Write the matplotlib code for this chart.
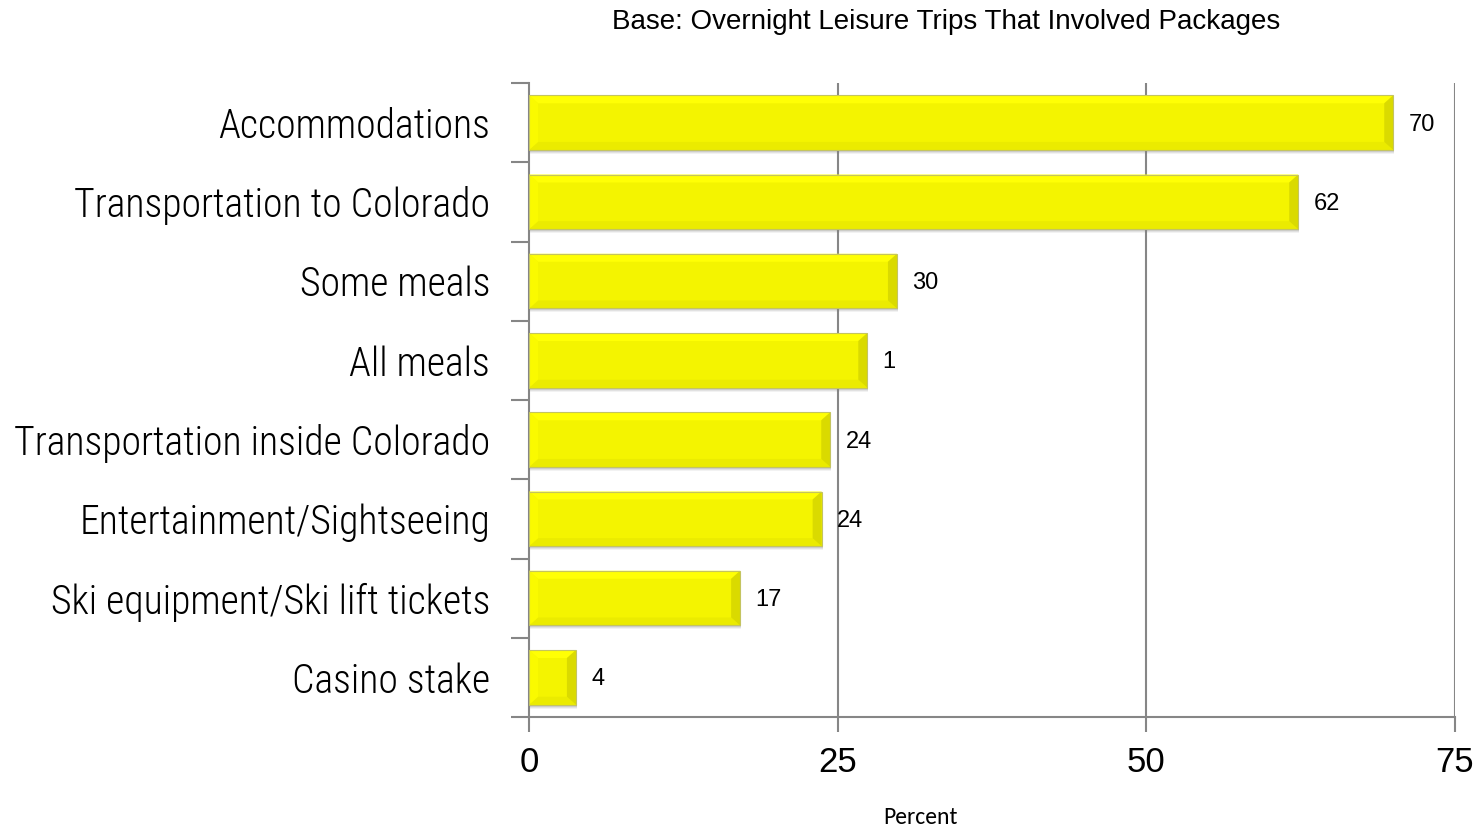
import matplotlib
matplotlib.use("Agg")
import matplotlib.pyplot as plt
import matplotlib.font_manager as fm
from matplotlib.patches import Rectangle, Polygon
import numpy as np

categories = ["Accommodations", "Transportation to Colorado", "Some meals", "All meals",
              "Transportation inside Colorado", "Entertainment/Sightseeing",
              "Ski equipment/Ski lift tickets", "Casino stake"]
values = [70, 62.3, 29.8, 27.4, 24.4, 23.7, 17.1, 3.8]
value_labels = ["70", "62", "30", "1", "24", "24", "17", "4"]
x_ticks = [0, 25, 50, 75]
title = "Base: Overnight Leisure Trips That Involved Packages"
xlabel = "Percent"

names = {f.name for f in fm.fontManager.ttflist}


def pick(prefs, default):
    for p in prefs:
        if p in names:
            return p
    return default


narrow = pick(["Liberation Sans Narrow", "Arial Narrow", "Roboto Condensed",
               "Archivo Narrow", "PT Sans Narrow", "Barlow Condensed"], "DejaVu Sans")
arial = pick(["Liberation Sans", "Arimo", "Arial"], "DejaVu Sans")
calibri = pick(["Carlito", "Calibri", "Open Sans"], "DejaVu Sans")
narrow_size = 30 if narrow in ("Liberation Sans Narrow", "Arial Narrow") else 28.6
if narrow == "DejaVu Sans":
    narrow_size = 21

fig = plt.figure(figsize=(14.84, 8.31), dpi=100)
ax = fig.add_axes([529/1484, 1-717/831, (1455-529)/1484, (717-83)/831])

n = len(categories)
ypos = np.arange(n)[::-1]
bar_h = 0.69
ax.set_xlim(0, 75)
ax.set_ylim(-0.5, n-0.5)

grid_c = "#868686"
for xt in x_ticks[1:]:
    ax.axvline(xt, color=grid_c, lw=1.5, zorder=0.5)

# pixel -> data scale
px_x = 75 / (1455-529)
px_y = n / (717-83)
bev_x = 9 * px_x
bev_y = 8 * px_y

face = "#F4F400"
for y, v in zip(ypos, values):
    y0, y1 = y - bar_h/2, y + bar_h/2
    # shadow
    for k, a in zip([4, 3, 2], [0.10, 0.15, 0.2]):
        ax.add_patch(Rectangle((0 + 1*px_x, y0 - k*px_y), v, bar_h, facecolor="#808080",
                               edgecolor="none", alpha=a, zorder=1))
    ax.add_patch(Rectangle((0, y0), v, bar_h, facecolor=face, edgecolor="none", zorder=2))
    bx = min(bev_x, v/2)
    ax.add_patch(Polygon([(0, y1), (v, y1), (v-bx, y1-bev_y), (bx, y1-bev_y)],
                         facecolor="#FFFF05", edgecolor="none", zorder=3))
    ax.add_patch(Polygon([(0, y0), (v, y0), (v-bx, y0+bev_y), (bx, y0+bev_y)],
                         facecolor="#EBEB00", edgecolor="none", zorder=3))
    ax.add_patch(Polygon([(0, y0), (0, y1), (bx, y1-bev_y), (bx, y0+bev_y)],
                         facecolor="#FAFA00", edgecolor="none", zorder=3))
    ax.add_patch(Polygon([(v, y0), (v, y1), (v-bx, y1-bev_y), (v-bx, y0+bev_y)],
                         facecolor="#DADA00", edgecolor="none", zorder=3))
    ax.add_patch(Rectangle((0, y0), v, bar_h, facecolor="none", edgecolor="#C4C460",
                           lw=0.8, zorder=4))

for y, v, lab in zip(ypos, values, value_labels):
    ax.annotate(lab, (v, y), xytext=(11, -1.5), textcoords="offset points",
                va="center", ha="left", fontsize=17, family=arial, color="black")

for s in ["top", "right"]:
    ax.spines[s].set_visible(False)
for s in ["left", "bottom"]:
    ax.spines[s].set_color(grid_c)
    ax.spines[s].set_linewidth(1.5)

ax.set_xticks(x_ticks)
ax.set_xticklabels([str(t) for t in x_ticks], fontsize=25, family=arial)
ax.tick_params(axis="x", length=11, width=1.5, color=grid_c, pad=10)
ax.set_yticks(ypos)
ax.set_yticklabels(categories, fontsize=narrow_size, family=narrow, fontweight="light")
ax.tick_params(axis="y", which="major", length=0, pad=28)
ax.set_yticks(np.arange(n+1) - 0.5, minor=True)
ax.tick_params(axis="y", which="minor", length=13, width=1.5, color=grid_c)

fig.text(946/1484, 1-22/831, title, ha="center", va="center", fontsize=20, family=arial)
fig.text(920/1484, 1-818/831, xlabel, ha="center", va="center", fontsize=17, family=calibri)

fig.savefig("out.png", dpi=100)
